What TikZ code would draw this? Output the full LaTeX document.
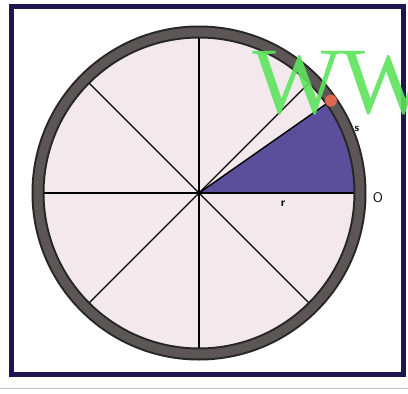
\documentclass[tikz,border=0pt]{standalone}
\usepackage{fontspec}
\setmainfont{Liberation Serif}
\usetikzlibrary{calc}
\definecolor{frame}{RGB}{28,22,80}
\definecolor{ringc}{RGB}{92,86,86}
\definecolor{pinkf}{RGB}{243,232,236}
\definecolor{sect}{RGB}{91,79,156}
\definecolor{dotc}{RGB}{222,104,84}
\definecolor{wm}{RGB}{92,228,92}
\tikzset{
  spoke/.style={line width=1.4pt, black},
  lbl/.style={inner sep=0pt}
}
\begin{document}
\begin{tikzpicture}[x=1pt,y=-1pt]
\useasboundingbox (0,0) rectangle (408,394);
\clip (0,0) rectangle (408,394);
\fill[white] (0,0) rectangle (408,394);
% frame
\draw[frame, line width=5pt] (11,6) rectangle (403,374);
% faint scan line
\draw[black!25, line width=1pt] (0,388) -- (408,388);
% circle
\coordinate (c) at (199,193);
\fill[pinkf] (c) circle[radius=156];
% sector 0..35 deg (screen up)
\fill[sect] (c) -- ++(0:156) arc[start angle=0, end angle=-35, radius=156] -- cycle;
% spokes
\foreach \a in {0,45,...,315} {
  \draw[spoke] (c) -- ++(\a:156);
}
\draw[spoke] (c) -- ++(-35:156);
% ring
\draw[black!85, line width=13pt] (c) circle[radius=161];
\draw[ringc, line width=9pt] (c) circle[radius=161];
% dot
\fill[dotc] ($(c)+(-35:161)$) circle[radius=6];
% labels
\node[lbl, font=\sffamily\bfseries\fontsize{11}{11}\selectfont] (s) at (357,129) {s};
\node[lbl, font=\sffamily\bfseries\fontsize{12}{12}\selectfont] (r) at (283,204) {r};
\node[lbl, font=\sffamily\fontsize{14}{14}\selectfont] (o) at (378,198) {O};
% watermark
\node[anchor=base west, inner sep=0pt, text=wm, opacity=0.9, font=\fontsize{95}{95}\selectfont] (w) at (252,113) {WW};
\end{tikzpicture}
\end{document}
